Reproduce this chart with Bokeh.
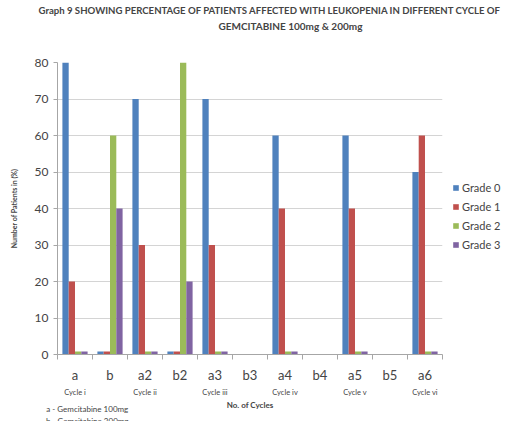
from bokeh.plotting import figure
from bokeh.models import (Range1d, LinearAxis, FixedTicker, Legend,
                          LegendItem, Title, ColumnDataSource)
from bokeh.transform import dodge
from bokeh.embed import file_html
from bokeh.resources import INLINE

categories = ["a", "b", "a2", "b2", "a3", "b3", "a4", "b4", "a5", "b5", "a6"]
nan = float("nan")
grade0 = [80, 0.8, 70, 0.8, 70, nan, 60, nan, 60, nan, 50]
grade1 = [20, 0.8, 30, 0.8, 30, nan, 40, nan, 40, nan, 60]
grade2 = [0.8, 60, 0.8, 80, 0.8, nan, 0.8, nan, 0.8, nan, 0.8]
grade3 = [0.8, 40, 0.8, 20, 0.8, nan, 0.8, nan, 0.8, nan, 0.8]
series_names = ["Grade 0", "Grade 1", "Grade 2", "Grade 3"]
colors = ["#4F81BD", "#C0504D", "#9BBB59", "#8064A2"]
cycle_labels = ["Cycle i", "Cycle ii", "Cycle iii", "Cycle iv", "Cycle v", "Cycle vi"]
cycle_at = ["a", "a2", "a3", "a4", "a5", "a6"]
y_ticks = [0, 10, 20, 30, 40, 50, 60, 70, 80]
title_line1 = "Graph 9 SHOWING PERCENTAGE OF PATIENTS AFFECTED WITH LEUKOPENIA IN DIFFERENT CYCLE OF"
title_line2 = "GEMCITABINE 100mg & 200mg"
notes = "a - Gemcitabine 100mg\nb - Gemcitabine 200mg"

FONT = "Lato"

n = len(categories)
centers = [i + 0.5 for i in range(n)]
bounds = [float(i) for i in range(n + 1)]
source = ColumnDataSource(dict(x=centers, g0=grade0, g1=grade1, g2=grade2, g3=grade3))

p = figure(frame_width=385, frame_height=292, output_backend="svg", toolbar_location=None,
           x_range=Range1d(0, n), y_range=Range1d(0, 80),
           min_border_left=57, min_border_right=64, min_border_top=60, min_border_bottom=69)

offsets = [-0.27, -0.09, 0.09, 0.27]
keys = ["g0", "g1", "g2", "g3"]
renderers = []
for k, off, c in zip(keys, offsets, colors):
    r = p.vbar(x=dodge("x", off), top=k, width=0.18, source=source,
               fill_color=c, line_color=None)
    renderers.append(r)

# titles: p.title is outermost; first entry in p.above sits nearest the frame
p.title.text = title_line1
p.title.text_font = FONT
p.title.text_font_size = "9.6px"
p.title.text_font_style = "bold"
p.title.align = "left"
p.title.offset = -19
p.title.standoff = 4
spacer = Title(text=" ", text_font=FONT, text_font_size="1px", standoff=28)
p.add_layout(spacer, "above")
t2 = Title(text=title_line2, text_font=FONT, text_font_size="10px", text_font_style="bold",
           align="left", offset=161, standoff=0)
p.add_layout(t2, "above")

# axes
p.outline_line_color = None
p.xgrid.grid_line_color = None
p.ygrid.grid_line_color = "#d4d4d4"
p.ygrid.ticker = FixedTicker(ticks=y_ticks)

p.yaxis.ticker = FixedTicker(ticks=y_ticks)
p.yaxis.axis_label = "Number of Patients in (%)"
p.yaxis.axis_label_text_font = FONT
p.yaxis.axis_label_text_font_size = "7px"
p.yaxis.axis_label_text_font_style = "bold"
p.yaxis.axis_label_standoff = 14
p.yaxis.major_label_text_font = FONT
p.yaxis.major_label_text_font_size = "12px"
p.yaxis.axis_line_color = "#a6a6a6"
p.yaxis.major_tick_line_color = "#a6a6a6"
p.yaxis.major_tick_out = 4
p.yaxis.major_tick_in = 0
p.yaxis.minor_tick_line_color = None

p.xaxis.ticker = FixedTicker(ticks=centers, minor_ticks=bounds)
p.xaxis.major_label_overrides = {c: l for c, l in zip(centers, categories)}
p.xaxis.major_label_text_font = FONT
p.xaxis.major_label_text_font_size = "13px"
p.xaxis.major_label_standoff = 7
p.xaxis.axis_line_color = "#a6a6a6"
p.xaxis.major_tick_line_color = None
p.xaxis.major_tick_out = 0
p.xaxis.major_tick_in = 0
p.xaxis.minor_tick_line_color = "#a6a6a6"
p.xaxis.minor_tick_out = 5
p.xaxis.minor_tick_in = 0

cyc_ticks = [centers[categories.index(c)] for c in cycle_at]
cyc_axis = LinearAxis(ticker=FixedTicker(ticks=cyc_ticks),
                      major_label_overrides={t: l for t, l in zip(cyc_ticks, cycle_labels)},
                      axis_line_color=None, major_tick_line_color=None, minor_tick_line_color=None,
                      major_tick_out=0, major_tick_in=0,
                      major_label_text_font=FONT, major_label_text_font_size="7.5px",
                      major_label_standoff=2, axis_label="No. of Cycles",
                      axis_label_text_font=FONT, axis_label_text_font_size="8px",
                      axis_label_text_font_style="bold", axis_label_standoff=0)
p.add_layout(cyc_axis, "below")

note_tick = 0.85
note_axis = LinearAxis(ticker=FixedTicker(ticks=[note_tick]),
                       major_label_overrides={note_tick: notes},
                       axis_line_color=None, major_tick_line_color=None, minor_tick_line_color=None,
                       major_tick_out=0, major_tick_in=0,
                       major_label_text_font=FONT, major_label_text_font_size="8px",
                       major_label_standoff=-9)
p.add_layout(note_axis, "below")

legend = Legend(items=[LegendItem(label=s, renderers=[r]) for s, r in zip(series_names, renderers)],
                location=(10, 103), border_line_color=None, background_fill_alpha=0,
                glyph_width=7, glyph_height=7, label_text_font=FONT, label_text_font_size="11px",
                spacing=6, padding=0, margin=10, label_standoff=3)
p.add_layout(legend, "right")

open("out.html", "w").write(file_html(p, INLINE))
